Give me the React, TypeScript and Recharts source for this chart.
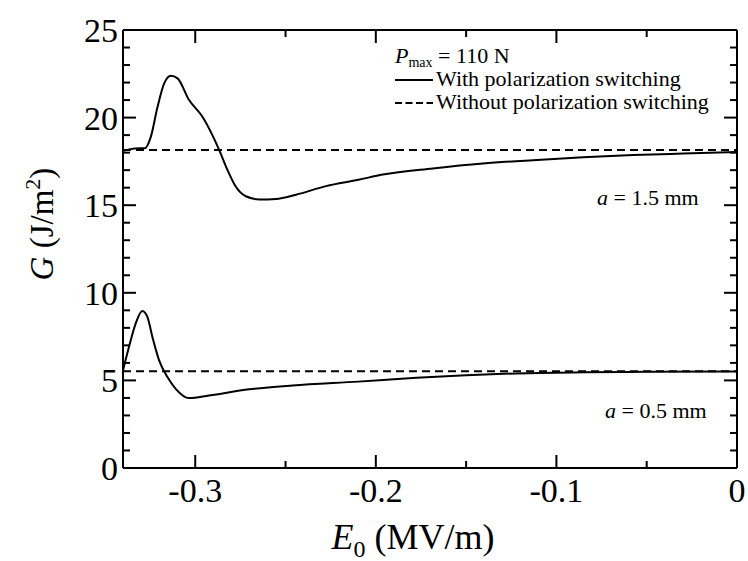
import React from "react";
import { LineChart, Line, XAxis, YAxis, Customized } from "recharts";

// a = 1.5 mm, with polarization switching
const upperX = [-0.34, -0.336, -0.331, -0.328, -0.3246, -0.3209, -0.3172, -0.3135, -0.3098, -0.3034, -0.296, -0.2905, -0.2867, -0.2821, -0.2775, -0.272, -0.2646, -0.2553, -0.2442, -0.2276, -0.2097, -0.1962, -0.1684, -0.1407, -0.113, -0.0852, -0.0575, -0.0298, 0];
const upperY = [18.1, 18.2, 18.25, 18.25, 18.9, 20.6, 21.95, 22.39, 22.24, 21.0, 20.05, 19.0, 18.14, 17.0, 16.05, 15.51, 15.33, 15.36, 15.6, 16.09, 16.45, 16.75, 17.1, 17.38, 17.57, 17.73, 17.86, 17.95, 18.03];

// a = 0.5 mm, with polarization switching
const lowerX = [-0.34, -0.3367, -0.333, -0.3293, -0.3265, -0.3237, -0.32, -0.3154, -0.3108, -0.3034, -0.2923, -0.2701, -0.2461, -0.2097, -0.196, -0.1775, -0.15, -0.122, -0.085, -0.05, 0];
const lowerY = [5.57, 6.9, 8.24, 8.96, 8.62, 7.47, 6.14, 5.19, 4.52, 3.99, 4.14, 4.49, 4.71, 4.93, 5.02, 5.15, 5.3, 5.4, 5.46, 5.49, 5.51];

// without polarization switching (constant)
const flatX = [-0.34, 0];
const upperFlatY = [18.15, 18.15];
const lowerFlatY = [5.52, 5.52];

const xMajor = [-0.3, -0.2, -0.1, 0];
const xMinor = [-0.25, -0.15, -0.05];
const xTickLabels = ["-0.3", "-0.2", "-0.1", "0"];
const yMajor = [0, 5, 10, 15, 20, 25];
const yMinor = [1, 2, 3, 4, 6, 7, 8, 9, 11, 12, 13, 14, 16, 17, 18, 19, 21, 22, 23, 24];

const toRows = (xs: number[], ys: number[]) => xs.map((x, i) => ({ x, y: ys[i] }));
const upperData = toRows(upperX, upperY);
const lowerData = toRows(lowerX, lowerY);
const upperFlat = toRows(flatX, upperFlatY);
const lowerFlat = toRows(flatX, lowerFlatY);

const FONT = "'Liberation Serif', 'Times New Roman', serif";
const MAJ = 13;
const MIN = 7;

const isMajorX = (v: number) => xMajor.some((m) => Math.abs(m - v) < 1e-9);
const isMajorY = (v: number) => yMajor.some((m) => Math.abs(m - v) < 1e-9);

const LeftTick = (props: any) => {
  const { x, y, payload } = props;
  const major = isMajorY(payload.value);
  const ax = x + 5;
  return (
    <g>
      <line x1={ax} x2={ax + (major ? MAJ : MIN)} y1={y} y2={y} stroke="#000" strokeWidth={2} />
      {major && (
        <text x={x} y={y} dy="0.35em" textAnchor="end" fontFamily={FONT} fontSize={34} fill="#000">
          {payload.value}
        </text>
      )}
    </g>
  );
};

const BottomTick = (props: any) => {
  const { x, y, payload } = props;
  const major = isMajorX(payload.value);
  const ay = y - 10;
  const idx = xMajor.findIndex((m) => Math.abs(m - payload.value) < 1e-9);
  return (
    <g>
      <line x1={x} x2={x} y1={ay} y2={ay - (major ? MAJ : MIN)} stroke="#000" strokeWidth={2} />
      {major && (
        <text x={x} y={y} dy="0.71em" textAnchor="middle" fontFamily={FONT} fontSize={34} fill="#000">
          {xTickLabels[idx]}
        </text>
      )}
    </g>
  );
};

const TopTick = (props: any) => {
  const { x, y, payload } = props;
  const major = isMajorX(payload.value);
  return <line x1={x} x2={x} y1={y} y2={y + (major ? MAJ : MIN)} stroke="#000" strokeWidth={2} />;
};

const RightTick = (props: any) => {
  const { x, y, payload } = props;
  const major = isMajorY(payload.value);
  return <line x1={x} x2={x - (major ? MAJ : MIN)} y1={y} y2={y} stroke="#000" strokeWidth={2} />;
};

const T = (p: any) => <text fontFamily={FONT} fill="#000" {...p} />;

const Annotations = () => (
  <g>
    {/* legend */}
    <T x={395} y={63} fontSize={22}>
      <tspan fontStyle="italic">P</tspan>
      <tspan dy={4} fontSize={14}>max</tspan>
      <tspan dy={-4}>{" = 110 N"}</tspan>
    </T>
    <line x1={395} x2={433} y1={80} y2={80} stroke="#000" strokeWidth={2} />
    <T x={436} y={86} fontSize={22}>With polarization switching</T>
    <line x1={395} x2={433} y1={103} y2={103} stroke="#000" strokeWidth={2} strokeDasharray="7 3.5" />
    <T x={436} y={109} fontSize={22}>Without polarization switching</T>

    <T x={597} y={205} fontSize={22}>
      <tspan fontStyle="italic">a</tspan>
      <tspan>{" = 1.5 mm"}</tspan>
    </T>
    <T x={605} y={418} fontSize={22}>
      <tspan fontStyle="italic">a</tspan>
      <tspan>{" = 0.5 mm"}</tspan>
    </T>

    {/* axis titles */}
    <T x={413} y={549} textAnchor="middle" fontSize={36}>
      <tspan fontStyle="italic">E</tspan>
      <tspan dy={8} fontSize={24}>0</tspan>
      <tspan dy={-8}>{" (MV/m)"}</tspan>
    </T>
    <T x={53} y={224} textAnchor="middle" fontSize={33} transform="rotate(-90, 53, 224)">
      <tspan fontStyle="italic">G</tspan>
      <tspan>{" (J/m"}</tspan>
      <tspan dy={-13} fontSize={22}>2</tspan>
      <tspan dy={13}>)</tspan>
    </T>
  </g>
);

export default function App() {
  return (
    <div style={{ position: "absolute", left: 0, top: 0, background: "#fff" }}>
      <LineChart width={748} height={561} margin={{ top: 29, right: 10, bottom: 0, left: 0 }}>
        <XAxis
          xAxisId="b"
          dataKey="x"
          type="number"
          domain={[-0.34, 0]}
          allowDataOverflow
          ticks={[...xMajor, ...xMinor]}
          interval={0}
          height={93}
          tickSize={0}
          tickMargin={10}
          tickLine={false}
          tick={<BottomTick />}
          axisLine={{ stroke: "#000", strokeWidth: 2 }}
        />
        <XAxis
          xAxisId="t"
          orientation="top"
          dataKey="x"
          type="number"
          domain={[-0.34, 0]}
          allowDataOverflow
          ticks={[...xMajor, ...xMinor]}
          interval={0}
          height={1}
          tickSize={0}
          tickMargin={0}
          tickLine={false}
          tick={<TopTick />}
          axisLine={{ stroke: "#000", strokeWidth: 2 }}
        />
        <YAxis
          yAxisId="l"
          type="number"
          domain={[0, 25]}
          allowDataOverflow
          ticks={[...yMajor, ...yMinor]}
          interval={0}
          width={123}
          tickSize={0}
          tickMargin={5}
          tickLine={false}
          tick={<LeftTick />}
          axisLine={{ stroke: "#000", strokeWidth: 2 }}
        />
        <YAxis
          yAxisId="r"
          orientation="right"
          type="number"
          domain={[0, 25]}
          allowDataOverflow
          ticks={[...yMajor, ...yMinor]}
          interval={0}
          width={1}
          tickSize={0}
          tickMargin={0}
          tickLine={false}
          tick={<RightTick />}
          axisLine={{ stroke: "#000", strokeWidth: 2 }}
        />
        <Line xAxisId="t" yAxisId="r" data={upperFlat} dataKey="y" type="linear" stroke="#000" strokeWidth={2} strokeDasharray="8 5" dot={false} isAnimationActive={false} />
        <Line xAxisId="t" yAxisId="r" data={lowerFlat} dataKey="y" type="linear" stroke="#000" strokeWidth={2} strokeDasharray="8 5" dot={false} isAnimationActive={false} />
        <Line xAxisId="b" yAxisId="l" data={upperData} dataKey="y" type="monotone" stroke="#000" strokeWidth={2} dot={false} isAnimationActive={false} />
        <Line xAxisId="b" yAxisId="l" data={lowerData} dataKey="y" type="monotone" stroke="#000" strokeWidth={2} dot={false} isAnimationActive={false} />
        <Customized component={Annotations} />
      </LineChart>
    </div>
  );
}
